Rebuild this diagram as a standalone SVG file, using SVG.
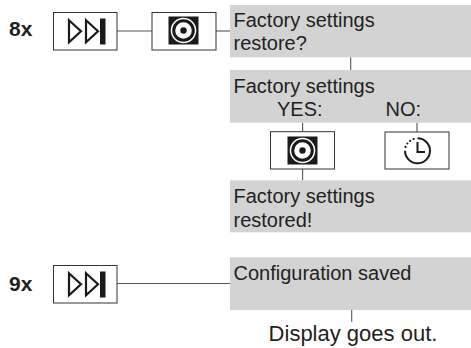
<svg xmlns="http://www.w3.org/2000/svg" width="471" height="348" viewBox="0 0 471 348">
<style>
.bg{fill:#ffffff}
.key{fill:#ffffff;stroke:#333333;stroke-width:1}
.panel{fill:#d3d3d3}
.conn{stroke:#555555;stroke-width:1.1;fill:none}
.t{font-family:"Liberation Sans",Arial,sans-serif;font-size:20px;fill:#231f20}
.cnt{font-family:"Liberation Sans",Arial,sans-serif;font-size:21px;font-weight:bold;fill:#231f20}
.big{font-family:"Liberation Sans",Arial,sans-serif;font-size:22px;fill:#231f20}
.ink{fill:#1a1a1a}
.tri{fill:#ffffff;stroke:#1a1a1a;stroke-width:2.2;stroke-linejoin:miter}
</style>
<defs>
<g id="skipIcon">
<polygon class="tri" points="15.5,8.3 27.5,19.3 15.5,30.3"/>
<polygon class="tri" points="32.5,8.3 44.5,19.3 32.5,30.3"/>
<rect class="ink" x="46.5" y="6.5" width="5.5" height="26"/>
</g>
<g id="okIcon">
<rect class="ink" x="-15" y="-14" width="30" height="28"/>
<circle cx="0" cy="0" r="12.8" fill="#ffffff"/>
<circle cx="0" cy="0" r="9.8" fill="none" stroke="#1a1a1a" stroke-width="3"/>
<circle class="ink" cx="0" cy="0" r="3.2"/>
</g>
</defs>
<rect class="bg" x="0" y="0" width="471" height="348"/>

<g id="connectors">
<line class="conn" x1="117" y1="31" x2="152" y2="31"/>
<line class="conn" x1="216" y1="31" x2="230" y2="31"/>
<line class="conn" x1="350.7" y1="57.3" x2="350.7" y2="70"/>
<line class="conn" x1="302.6" y1="122.7" x2="302.6" y2="131.7"/>
<line class="conn" x1="417" y1="122.7" x2="417" y2="132"/>
<line class="conn" x1="302.6" y1="169" x2="302.6" y2="180.3"/>
<line class="conn" x1="117" y1="283.5" x2="230" y2="283.5"/>
<line class="conn" x1="351.7" y1="310" x2="351.7" y2="321.7"/>
</g>

<g id="label-8x"><text class="cnt" x="9" y="35.5">8x</text></g>
<g id="label-9x"><text class="cnt" x="9" y="291">9x</text></g>

<g id="key-skip-1">
<rect class="key" x="53.5" y="12.5" width="63.5" height="37.5"/>
<use href="#skipIcon" x="53.5" y="12"/>
</g>

<g id="key-ok-1">
<rect class="key" x="152" y="12.5" width="64" height="37.5"/>
<use href="#okIcon" x="183.5" y="30.5"/>
</g>

<g id="panel-restore">
<rect class="panel" x="230" y="5" width="241" height="52.3"/>
<text class="t" x="233.5" y="27">Factory settings</text>
<text class="t" x="233.5" y="50">restore?</text>
</g>

<g id="panel-yesno">
<rect class="panel" x="230" y="70" width="241" height="52.7"/>
<text class="t" x="233.5" y="93">Factory settings</text>
<text class="t" x="277" y="115.5">YES:</text>
<text class="t" x="385.5" y="115.5">NO:</text>
</g>

<g id="key-ok-2">
<rect class="key" x="270.5" y="131.7" width="64" height="37.3"/>
<use href="#okIcon" x="302.5" y="150.5"/>
</g>

<g id="key-clock">
<rect class="key" x="385" y="132" width="64" height="37"/>
<path d="M417.5 138.3 A12.5 12.5 0 1 1 405 150.8" fill="none" stroke="#1a1a1a" stroke-width="2"/>
<circle class="ink" cx="405.6" cy="146.9" r="1.1"/>
<circle class="ink" cx="407.4" cy="143.5" r="1.1"/>
<circle class="ink" cx="410.1" cy="140.8" r="1.1"/>
<circle class="ink" cx="413.6" cy="139" r="1.1"/>
<path d="M417.5 142 V152 H425" fill="none" stroke="#1a1a1a" stroke-width="2"/>
</g>

<g id="panel-restored">
<rect class="panel" x="230" y="180.3" width="241" height="52"/>
<text class="t" x="233.5" y="203">Factory settings</text>
<text class="t" x="233.5" y="226.5">restored!</text>
</g>

<g id="key-skip-2">
<rect class="key" x="53.5" y="265.5" width="63.5" height="37.5"/>
<use href="#skipIcon" x="53.5" y="265"/>
</g>

<g id="panel-saved">
<rect class="panel" x="230" y="257.3" width="241" height="52.7"/>
<text class="t" x="233.5" y="280">Configuration saved</text>
</g>

<g id="note-display">
<text class="big" x="353" y="341" text-anchor="middle">Display goes out.</text>
</g>
</svg>
